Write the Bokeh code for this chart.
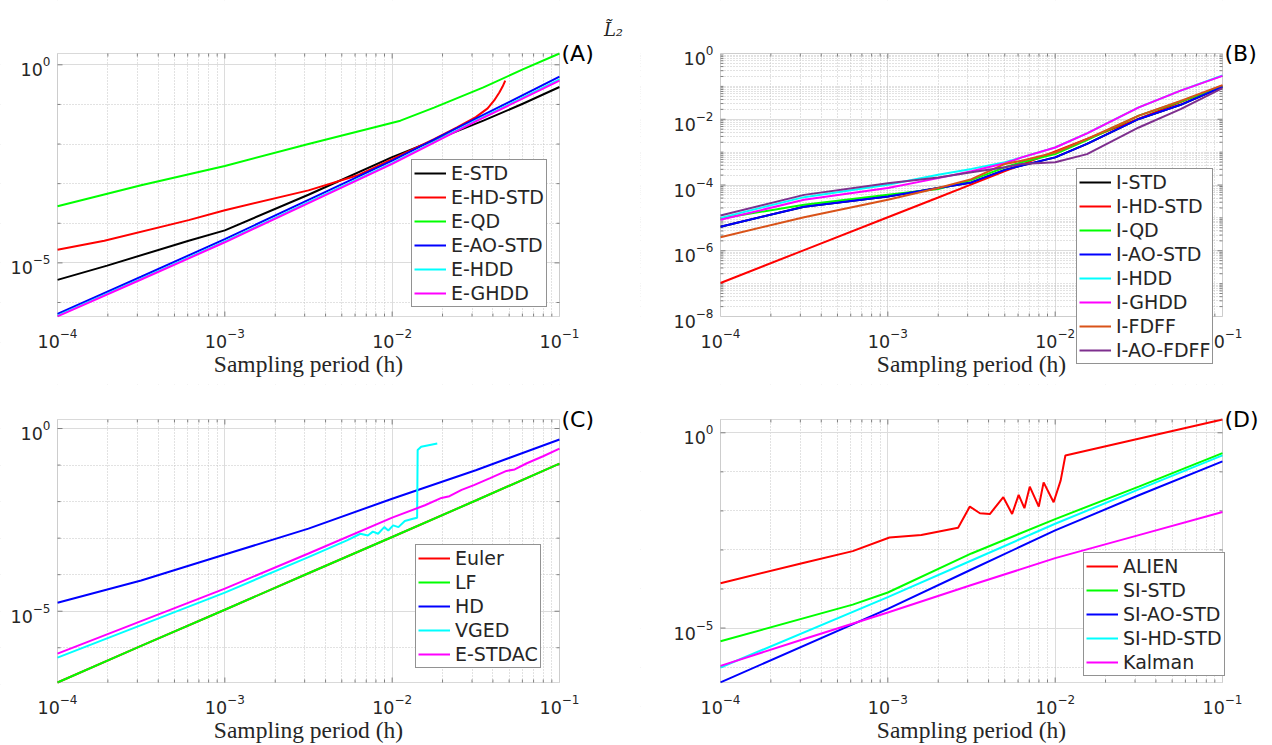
import math
from bokeh.plotting import figure
from bokeh.models import (Range1d, FixedTicker, Label, Legend, LegendItem, BoxAnnotation)
from bokeh.layouts import column, row
from bokeh.embed import file_html
from bokeh.resources import INLINE
from bokeh.core.properties import value

# ---------------- data ----------------
# Panel A
A_NAMES = ["E-STD", "E-HD-STD", "E-QD", "E-AO-STD", "E-HDD", "E-GHDD"]
H_A_STD = [1e-4, 1.98e-4, 6.08e-4, 1e-3, 3.16e-3, 1e-2, 3.51e-2, 6.08e-2, 1e-1]
A_STD = [3.72e-6, 8.51e-6, 3.63e-5, 6.61e-5, 5.25e-4, 4.68e-3, 3.89e-2, 0.1057, 0.275]
H_A_HD = [1e-4, 1.905e-4, 6.08e-4, 1e-3, 3.16e-3, 6.31e-3, 1e-2, 1.78e-2, 2.44e-2,
          3.16e-2, 3.72e-2, 4.07e-2, 4.37e-2, 4.57e-2, 4.74e-2]
A_HD = [2.14e-5, 3.63e-5, 1.20e-4, 2.14e-4, 6.76e-4, 1.66e-3, 4.17e-3, 1.32e-2, 2.63e-2,
        4.79e-2, 7.94e-2, 0.126, 0.200, 0.282, 0.398]
H_A_QD = [1e-4, 3.16e-4, 1e-3, 3.16e-3, 1.12e-2, 1.78e-2, 3.51e-2, 6.08e-2, 1e-1]
A_QD = [2.69e-4, 9.12e-4, 2.79e-3, 1.0e-2, 3.89e-2, 8.32e-2, 0.269, 0.776, 1.928]
H_A = [1e-4, 3.16e-4, 1e-3, 3.16e-3, 1e-2, 3.16e-2, 1e-1]
A_AO = [5.13e-7, 4.47e-6, 3.98e-5, 3.89e-4, 3.80e-3, 4.37e-2, 0.501]
A_HDD = [4.68e-7, 3.98e-6, 3.47e-5, 3.39e-4, 3.31e-3, 3.89e-2, 0.427]
A_GHDD = [4.47e-7, 3.80e-6, 3.31e-5, 3.24e-4, 3.16e-3, 3.72e-2, 0.398]

# Panel B
B_NAMES = ["I-STD", "I-HD-STD", "I-QD", "I-AO-STD", "I-HDD", "I-GHDD", "I-FDFF", "I-AO-FDFF"]
H_B = [1e-4, 3.16e-4, 1e-3, 2.0e-3, 3.16e-3, 5.01e-3, 6.31e-3, 1e-2, 1.55e-2, 3.16e-2, 5.62e-2, 1e-1]
B_STD = [5.37e-6, 2.19e-5, 4.47e-5, 8.13e-5, 1.20e-4, 2.88e-4, 3.89e-4, 6.92e-4, 1.78e-3, 1.02e-2, 2.75e-2, 9.77e-2]
B_HD = [1.047e-7, 1.047e-6, 1.047e-5, 4.17e-5, 1.047e-4, 2.63e-4, 4.17e-4, 1.047e-3, 2.51e-3, 1.047e-2, 3.31e-2, 0.1047]
B_QD = [9.55e-6, 2.51e-5, 5.01e-5, 7.59e-5, 1.41e-4, 3.47e-4, 4.90e-4, 8.71e-4, 2.34e-3, 1.29e-2, 3.47e-2, 0.1]
B_AO = [5.37e-6, 2.19e-5, 4.47e-5, 8.13e-5, 1.20e-4, 2.88e-4, 3.89e-4, 6.92e-4, 1.78e-3, 1.02e-2, 2.75e-2, 9.77e-2]
B_HDD = [1.0e-5, 4.27e-5, 1.023e-4, 2.04e-4, 3.09e-4, 4.90e-4, 6.92e-4, 1.38e-3, 3.72e-3, 2.29e-2, 7.41e-2, 0.214]
B_GHDD = [8.71e-6, 3.55e-5, 8.13e-5, 1.62e-4, 2.63e-4, 4.57e-4, 6.92e-4, 1.38e-3, 3.72e-3, 2.29e-2, 7.41e-2, 0.209]
B_FDFF = [2.57e-6, 1.047e-5, 3.55e-5, 8.13e-5, 1.51e-4, 4.37e-4, 5.50e-4, 9.77e-4, 2.51e-3, 1.29e-2, 3.63e-2, 0.1096]
B_AOFDFF = [1.175e-5, 5.01e-5, 1.122e-4, 1.70e-4, 2.455e-4, 3.47e-4, 4.37e-4, 4.90e-4, 8.71e-4, 5.62e-3, 2.04e-2, 8.91e-2]

# Panel C
C_NAMES = ["Euler", "LF", "HD", "VGED", "E-STDAC"]
H_C = [1e-4, 3.16e-4, 1e-3, 3.16e-3, 1e-2, 3.16e-2, 1e-1]
C_EULER = [1.122e-7, 1.122e-6, 1.096e-5, 1.096e-4, 1.072e-3, 1.072e-2, 0.1096]
C_LF = [1.122e-7, 1.122e-6, 1.096e-5, 1.096e-4, 1.072e-3, 1.072e-2, 0.1096]
C_HD = [1.70e-5, 6.92e-5, 3.55e-4, 1.82e-3, 1.20e-2, 7.24e-2, 0.501]
H_C_VGED = [1e-4, 3.16e-4, 1e-3, 3.16e-3, 5.37e-3, 6.46e-3, 7.16e-3, 7.67e-3, 8.24e-3,
            8.97e-3, 9.48e-3, 1.014e-2, 1.09e-2, 1.19e-2, 1.33e-2, 1.41e-2, 1.42e-2, 1.49e-2, 1.86e-2]
C_VGED = [5.37e-7, 4.17e-6, 3.24e-5, 3.02e-4, 8.71e-4, 1.32e-3, 1.175e-3, 1.51e-3, 1.32e-3,
          2.0e-3, 1.62e-3, 2.24e-3, 2.0e-3, 2.95e-3, 3.39e-3, 3.63e-3, 0.257, 0.316, 0.389]
H_C_STDAC = [1e-4, 3.16e-4, 1e-3, 3.16e-3, 1e-2, 1.57e-2, 1.97e-2, 2.20e-2, 2.60e-2, 3.08e-2,
             3.85e-2, 4.82e-2, 5.40e-2, 6.38e-2, 7.98e-2, 1e-1]
C_STDAC = [6.92e-7, 5.37e-6, 4.17e-5, 3.80e-4, 3.63e-3, 7.94e-3, 1.259e-2, 1.41e-2, 2.09e-2, 2.82e-2,
           4.37e-2, 6.92e-2, 7.59e-2, 0.1122, 0.174, 0.282]

# Panel D
D_NAMES = ["ALIEN", "SI-STD", "SI-AO-STD", "SI-HD-STD", "Kalman"]
H_D_ALIEN = [1e-4, 3.16e-4, 6.17e-4, 1.023e-3, 1.585e-3, 2.63e-3, 3.09e-3, 3.55e-3, 4.07e-3, 4.90e-3,
             5.53e-3, 6.05e-3, 6.55e-3, 7.05e-3, 7.98e-3, 8.53e-3, 9.79e-3, 1.079e-2, 1.151e-2, 1e-1]
D_ALIEN = [1.41e-4, 4.68e-4, 9.33e-4, 2.09e-3, 2.40e-3, 3.72e-3, 1.29e-2, 8.71e-3, 8.32e-3, 2.24e-2,
           8.32e-3, 2.57e-2, 1.175e-2, 4.17e-2, 1.29e-2, 5.37e-2, 1.66e-2, 6.03e-2, 0.263, 2.19]
H_D_SI = [1e-4, 6.17e-4, 1e-3, 3.16e-3, 1e-2, 3.16e-2, 1e-1]
D_SISTD = [4.57e-6, 3.98e-5, 8.13e-5, 8.13e-4, 6.17e-3, 4.17e-2, 0.302]
H_D = [1e-4, 1e-3, 3.16e-3, 1e-2, 3.16e-2, 1e-1]
D_SIAO = [4.07e-7, 3.09e-5, 3.16e-4, 3.16e-3, 2.51e-2, 0.186]
D_SIHD = [9.77e-7, 6.17e-5, 5.37e-4, 4.68e-3, 3.55e-2, 0.263]
H_D_K = [1e-4, 3.16e-4, 1e-3, 3.16e-3, 1e-2, 3.16e-2, 1e-1]
D_KALMAN = [1.072e-6, 5.25e-6, 2.51e-5, 1.26e-4, 6.17e-4, 2.40e-3, 9.33e-3]

# ---------------- ticks and tick labels ----------------
X_MAJOR = [1e-4, 1e-3, 1e-2, 1e-1]
X_EXP = ["\u22124", "\u22123", "\u22122", "\u22121"]
X_MINOR = [k * 10.0 ** e for e in (-4, -3, -2) for k in range(2, 10)]
Y5_MAJOR = [1e-5, 1.0]
Y5_EXP = ["\u22125", "0"]
Y5_MINOR = [1e-7, 1e-6, 1e-4, 1e-3, 1e-2, 1e-1]
YB_MAJOR = [1e-8, 1e-6, 1e-4, 1e-2, 1.0]
YB_EXP = ["\u22128", "\u22126", "\u22124", "\u22122", "0"]
YB_MINOR = [k * 10.0 ** e for e in range(-8, 0) for k in range(1, 10)
            if not (k == 1 and e % 2 == 0)]
TICK_BASE = "10"
XLABEL = "Sampling period (h)"

# ---------------- styling / geometry ----------------
BLACK, RED, GREEN, BLUE = "#000000", "#ff0000", "#00ff00", "#0000ff"
CYAN, MAGENTA, ORANGE, PURPLE = "#00ffff", "#ff00ff", "#d95319", "#7e2f8e"
TXT = "#262626"
BOX = "#808080"
XLO, XHI = 1e-4, 1e-1
BOX_W, BOX_H = 502, 263           # axes box size in px
BASE_FS, EXP_FS = 17.5, 12.0


def log_range(lo, hi, box_px, pad_lo, pad_hi):
    d = math.log10(hi / lo) / box_px
    return Range1d(lo / 10 ** (pad_lo * d), hi * 10 ** (pad_hi * d))


def exp_width(s):
    return sum(0.838 if ch == "\u2212" else 0.636 for ch in s) * EXP_FS


BASE_W = 2 * 0.636 * BASE_FS


def mask(p, **edges):
    p.add_layout(BoxAnnotation(fill_color="white", fill_alpha=1.0, line_color=None,
                               level="underlay", **edges))


def txt(p, x, y, text, align, xoff, size, font="DejaVu Sans"):
    p.text(x=x, y=y, text=text, text_align=align, text_baseline="alphabetic",
           x_offset=xoff, text_font=value(font), text_font_size=size, text_color=TXT)


def make_panel(fw, fh, pad_l, pad_r, pad_t, pad_b, ylo, yhi, y_major, y_exp, y_minor):
    xr = log_range(XLO, XHI, BOX_W, pad_l, pad_r)
    yr = log_range(ylo, yhi, BOX_H, pad_b, pad_t)
    p = figure(width=fw, height=fh, x_axis_type="log", y_axis_type="log",
               x_range=xr, y_range=yr, x_axis_location=None, y_axis_location=None,
               output_backend="svg", toolbar_location=None,
               min_border_left=0, min_border_right=0, min_border_top=0,
               min_border_bottom=0, background_fill_color="white",
               border_fill_color="white")
    p.outline_line_color = None
    xt = FixedTicker(ticks=X_MAJOR, minor_ticks=X_MINOR)
    yt = FixedTicker(ticks=y_major, minor_ticks=y_minor)
    for g, t, b in ((p.xgrid[0], xt, (XLO, XHI)), (p.ygrid[0], yt, (ylo, yhi))):
        g.ticker = t
        g.bounds = b
        g.grid_line_color = "#dcdcdc"
        g.grid_line_width = 1
        g.minor_grid_line_color = "#c4c4c4"
        g.minor_grid_line_dash = "1 2"
        g.minor_grid_line_width = 1
    # white masks so that the grid stays inside the axes box
    mask(p, bottom=yhi)
    mask(p, top=ylo)
    mask(p, left=XHI)
    mask(p, right=XLO)
    # axes box
    p.add_layout(BoxAnnotation(left=XLO, right=XHI, bottom=ylo, top=yhi, fill_color=None,
                               line_color=BOX, line_width=1, level="annotation"))
    # inward ticks on all four sides
    xd = math.log10(XHI / XLO) / BOX_W
    yd = math.log10(yhi / ylo) / BOX_H
    for ticks, L in ((X_MAJOR, 5), (X_MINOR, 3)):
        t = [v for v in ticks if XLO < v < XHI]
        n = len(t)
        p.segment(x0=t, y0=[yhi] * n, x1=t, y1=[yhi / 10 ** (L * yd)] * n,
                  line_color=BOX, line_width=1)
        p.segment(x0=t, y0=[ylo] * n, x1=t, y1=[ylo * 10 ** (L * yd)] * n,
                  line_color=BOX, line_width=1)
    for ticks, L in ((y_major, 5), (y_minor, 3)):
        t = [v for v in ticks if ylo < v < yhi]
        n = len(t)
        p.segment(x0=[XHI] * n, y0=t, x1=[XHI / 10 ** (L * xd)] * n, y1=t,
                  line_color=BOX, line_width=1)
        p.segment(x0=[XLO] * n, y0=t, x1=[XLO * 10 ** (L * xd)] * n, y1=t,
                  line_color=BOX, line_width=1)
    # x tick labels  10^k  (centred under the tick)
    n = len(X_MAJOR)
    half = [(BASE_W + exp_width(e)) / 2 for e in X_EXP]
    txt(p, X_MAJOR, [ylo / 10 ** (25 * yd)] * n, [TICK_BASE] * n, "left",
        [-h for h in half], f"{BASE_FS}px")
    txt(p, X_MAJOR, [ylo / 10 ** (17 * yd)] * n, X_EXP, "left",
        [BASE_W - h for h in half], f"{EXP_FS}px")
    # y tick labels (right aligned, left of the box)
    m = len(y_major)
    txt(p, [XLO] * m, [v / 10 ** (5 * yd) for v in y_major], [TICK_BASE] * m, "right",
        [-7 - exp_width(e) for e in y_exp], f"{BASE_FS}px")
    txt(p, [XLO] * m, [v * 10 ** (3 * yd) for v in y_major], y_exp, "right",
        [-7] * m, f"{EXP_FS}px")
    # x axis label
    p.add_layout(Label(x=math.sqrt(XLO * XHI), y=ylo / 10 ** (47 * yd),
                       text=XLABEL, text_align="center",
                       text_baseline="alphabetic", text_font="Liberation Serif",
                       text_font_size="23.5px", text_color=TXT))
    return p


def add_series(p, xs_list, ys_list, colors, names, loc):
    items = []
    for xs, ys, c, n in zip(xs_list, ys_list, colors, names):
        r = p.line(xs, ys, line_color=c, line_width=2)
        items.append(LegendItem(label=n, renderers=[r]))
    leg = Legend(items=items, location=loc, orientation="vertical",
                 border_line_color=TXT, border_line_width=1,
                 background_fill_color="white", background_fill_alpha=1.0,
                 label_text_font="DejaVu Sans", label_text_font_size="19px",
                 label_text_color=TXT, glyph_width=32, glyph_height=22,
                 label_height=22, label_standoff=5, spacing=2, padding=2, margin=0)
    p.add_layout(leg)


def panel_tag(p, text, ytop):
    p.add_layout(Label(x=XHI, y=ytop, text=text, x_offset=2, text_align="left",
                       text_baseline="middle", text_font="DejaVu Sans",
                       text_font_size="22px", text_color="#000000"))


# Panel A  (figure 640x384, box 57..559 x 53..316)
A_LO, A_HI = 4.43e-7, 1.93
pA = make_panel(640, 384, 57, 81, 53, 68, A_LO, A_HI, Y5_MAJOR, Y5_EXP, Y5_MINOR)
add_series(pA, [H_A_STD, H_A_HD, H_A_QD, H_A, H_A, H_A],
           [A_STD, A_HD, A_QD, A_AO, A_HDD, A_GHDD],
           [BLACK, RED, GREEN, BLUE, CYAN, MAGENTA], A_NAMES, (411, 77))
panel_tag(pA, "(A)", A_HI)
pA.add_layout(Label(x=XHI, y=A_HI, x_offset=54, y_offset=24, text="L\u0303\u2082",
                    text_align="center", text_baseline="middle", text_font="DejaVu Serif",
                    text_font_style="italic", text_font_size="18px", text_color=TXT))

# Panel B  (figure 632x384, box 720..1222 x 53..316)
B_LO, B_HI = 1e-8, 1.0
pB = make_panel(632, 384, 80, 50, 53, 68, B_LO, B_HI, YB_MAJOR, YB_EXP, YB_MINOR)
add_series(pB, [H_B] * 8,
           [B_STD, B_HD, B_QD, B_AO, B_HDD, B_GHDD, B_FDFF, B_AOFDFF],
           [BLACK, RED, GREEN, BLUE, CYAN, MAGENTA, ORANGE, PURPLE], B_NAMES, (436, 20))
panel_tag(pB, "(B)", B_HI)

# Panel C  (figure 640x361, box 57..559 x 419..682)
C_LO, C_HI = 1.12e-7, 1.766
pC = make_panel(640, 361, 57, 81, 35, 63, C_LO, C_HI, Y5_MAJOR, Y5_EXP, Y5_MINOR)
add_series(pC, [H_C, H_C, H_C, H_C_VGED, H_C_STDAC],
           [C_EULER, C_LF, C_HD, C_VGED, C_STDAC],
           [RED, GREEN, BLUE, CYAN, MAGENTA], C_NAMES, (415, 77))
panel_tag(pC, "(C)", C_HI)

# Panel D  (figure 632x361, box 720..1222 x 419..682)
D_LO, D_HI = 4.03e-7, 2.19
pD = make_panel(632, 361, 80, 50, 35, 63, D_LO, D_HI, Y5_MAJOR, Y5_EXP, Y5_MINOR)
add_series(pD, [H_D_ALIEN, H_D_SI, H_D, H_D, H_D_K],
           [D_ALIEN, D_SISTD, D_SIAO, D_SIHD, D_KALMAN],
           [RED, GREEN, BLUE, CYAN, MAGENTA], D_NAMES, (443, 69))
panel_tag(pD, "(D)", D_HI)

layout = column(row(pA, pB), row(pC, pD))
open("out.html", "w").write(file_html(layout, INLINE))
